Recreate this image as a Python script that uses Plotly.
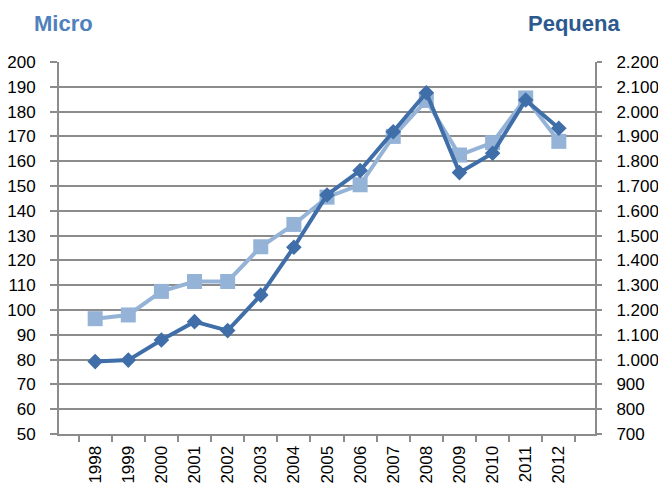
import plotly.graph_objects as go

years = ["1998", "1999", "2000", "2001", "2002", "2003", "2004", "2005",
         "2006", "2007", "2008", "2009", "2010", "2011", "2012"]
micro = [96.5, 98, 107.5, 111.5, 111.5, 125.5, 134.5, 145.5,
         150.5, 170, 184.5, 162.5, 167.5, 185.5, 168]
pequena = [992, 998, 1079, 1153, 1117, 1260, 1453, 1664,
           1762, 1919, 2076, 1754, 1832, 2047, 1933]

light = "#95B3D7"
dark = "#3F6EA8"
grid = "#8C8C8C"
font = "Liberation Sans, Arial, sans-serif"

fig = go.Figure()
fig.add_trace(go.Scatter(
    x=years, y=micro, name="Micro", mode="lines+markers",
    line=dict(color=light, width=4),
    marker=dict(symbol="square", size=15, color=light),
    yaxis="y"))
fig.add_trace(go.Scatter(
    x=years, y=pequena, name="Pequena", mode="lines+markers",
    line=dict(color=dark, width=4),
    marker=dict(symbol="diamond", size=12, color=dark),
    yaxis="y2"))

fig.update_layout(
    width=658, height=485,
    margin=dict(l=59, r=63, t=62, b=51, autoexpand=False),
    plot_bgcolor="white", paper_bgcolor="white",
    showlegend=False,
    separators=",.",
    font=dict(family=font, size=17, color="#000000"),
    xaxis=dict(
        type="category", tickangle=-90, tickson="boundaries",
        ticks="outside", ticklen=6, tickcolor=grid, tickwidth=2,
        showline=True, linecolor=grid, linewidth=2,
        showgrid=False, tickfont=dict(size=17), ticklabelstandoff=3,
    ),
    yaxis=dict(
        range=[50, 200], dtick=10, tick0=50,
        ticks="outside", ticklen=7, tickcolor=grid, tickwidth=2,
        showline=True, linecolor=grid, linewidth=2,
        showgrid=True, gridcolor=grid, gridwidth=1.5,
        zeroline=False, tickfont=dict(size=17), ticklabelstandoff=11,
    ),
    yaxis2=dict(
        range=[700, 2200], dtick=100, tick0=700,
        overlaying="y", side="right",
        ticks="outside", ticklen=5, tickcolor=grid, tickwidth=2,
        showline=True, linecolor=grid, linewidth=2,
        showgrid=False, zeroline=False, tickformat=",d",
        tickfont=dict(size=17), ticklabelstandoff=11,
    ),
    annotations=[
        dict(text="<b>Micro</b>", xref="paper", yref="paper",
             x=-0.05, y=1.0, xanchor="left", yanchor="bottom",
             yshift=24, showarrow=False,
             font=dict(family=font, size=22, color="#4F81BD")),
        dict(text="<b>Pequena</b>", xref="paper", yref="paper",
             x=1.05, y=1.0, xanchor="right", yanchor="bottom",
             yshift=24, showarrow=False,
             font=dict(family=font, size=22, color="#2C5A8E")),
    ],
)

fig.write_html("out.html",
               config={"displayModeBar": False},
               post_script="document.body.style.margin='0';document.body.style.padding='0';")
